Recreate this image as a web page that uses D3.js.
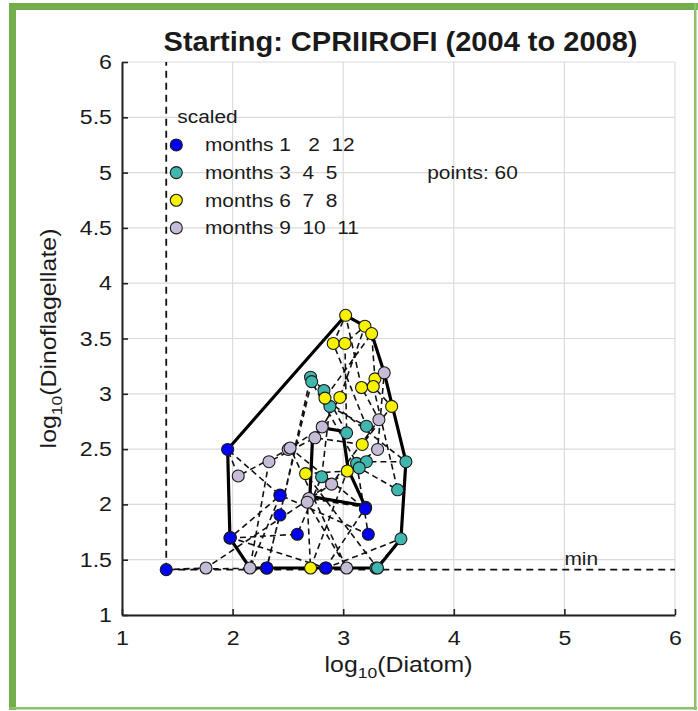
<!DOCTYPE html>
<html>
<head>
<meta charset="UTF-8">
<title>CPRIIROFI</title>
<script src="https://cdn.jsdelivr.net/npm/d3@7"></script>
<style>
body { margin: 0; background: #fff; }
text { font-family: "Liberation Sans", Arial, Helvetica, sans-serif; fill: #1a1a1a; }
</style>
</head>
<body>
<svg id="chart" width="698" height="711"></svg>
<script>
// monthly samples in time order, Jan 2004 .. Dec 2008
const years = [2004, 2005, 2006, 2007, 2008];
const diatom = [
  1.976, 2.585, 2.805, 2.880, 3.210, 2.910, 3.022, 3.166, 3.323, 2.895, 1.759, 1.400,
  2.307, 2.428, 2.705, 2.826, 3.031, 3.016, 3.196, 2.970, 2.810, 2.503, 2.051, 1.955,
  2.428, 3.227, 3.121, 3.210, 3.567, 2.835, 3.257, 3.287, 3.371, 3.311, 2.690, 3.203,
  2.840, 2.310, 2.715, 3.145, 3.492, 3.272, 3.438, 3.172, 2.744, 2.329, 2.157, 2.430,
  1.980, 2.845, 3.522, 3.296, 3.310, 2.660, 3.037, 2.705, 2.675, 3.031, 2.520, 3.200
];
const dino = [
  1.695, 1.730, 2.250, 2.886, 2.707, 3.455, 3.710, 3.057, 2.766, 2.183, 1.425, 1.410,
  1.425, 1.904, 3.150, 3.030, 2.647, 3.455, 3.611, 2.967, 2.700, 2.497, 2.257, 2.497,
  2.084, 1.730, 2.371, 2.386, 2.386, 2.961, 3.545, 3.135, 3.190, 2.497, 2.054, 1.973,
  1.425, 1.425, 3.110, 2.330, 2.132, 3.066, 2.886, 2.542, 2.602, 2.386, 1.425, 2.080,
  1.700, 1.425, 1.689, 1.425, 1.425, 2.278, 2.302, 1.425, 2.020, 1.425, 2.510, 1.960
];
const groupMonths = [[1, 2, 12], [3, 4, 5], [6, 7, 8], [9, 10, 11]];
const groupLabels = ["months 1   2  12", "months 3  4  5", "months 6  7  8", "months 9  10  11"];
const groupColors = ["#0000f5", "#3fb6ae", "#f7f200", "#c6bcd8"];
const xTicks = [1, 2, 3, 4, 5, 6];
const yTicks = [1, 1.5, 2, 2.5, 3, 3.5, 4, 4.5, 5, 5.5, 6];
const minDiatom = 1.4;
const minDino = 1.41;
// core polygon
const coreX = [2.819, 2.995, 3.045, 3.196, 2.699, 2.723];
const coreY = [2.692, 2.661, 2.317, 1.988, 2.072, 2.611];

const svg = d3.select("#chart");
const sx = 1.13; // the original text is a bit wider than Arial

const x = d3.scaleLinear().domain([1, 6]).range([122, 675]);
const y = d3.scaleLinear().domain([1, 6]).range([615, 62]);

const pts = diatom.map(function(d, i) {
  const m = (i % 12) + 1;
  const g = groupMonths.findIndex(function(a) { return a.indexOf(m) >= 0; });
  return { x: d, y: dino[i], month: m, year: years[Math.floor(i / 12)], group: g };
});

// green frame
const green = "#72ae4a";
svg.append("rect").attr("x", 9).attr("y", 3).attr("width", 7).attr("height", 707).attr("fill", green);
svg.append("rect").attr("x", 9).attr("y", 3).attr("width", 689).attr("height", 7).attr("fill", green);
svg.append("rect").attr("x", 694).attr("y", 3).attr("width", 2.5).attr("height", 707).attr("fill", "#8cc06a");
svg.append("rect").attr("x", 9).attr("y", 707).attr("width", 688).attr("height", 2.5).attr("fill", "#8cc06a");

// grid
svg.append("g").selectAll("line").data(xTicks).join("line")
  .attr("x1", d => x(d)).attr("x2", d => x(d))
  .attr("y1", y(1)).attr("y2", y(6))
  .attr("stroke", "#dcdcdc").attr("stroke-width", 1.2);
svg.append("g").selectAll("line").data(yTicks).join("line")
  .attr("x1", x(1)).attr("x2", x(6))
  .attr("y1", d => y(d)).attr("y2", d => y(d))
  .attr("stroke", "#dcdcdc").attr("stroke-width", 1.2);

// axes
const xAxis = svg.append("g").attr("transform", "translate(0," + y(1) + ")")
  .call(d3.axisBottom(x).tickValues(xTicks).tickFormat(d3.format("d"))
    .tickSizeInner(-6).tickSizeOuter(0).tickPadding(15));
const yAxis = svg.append("g").attr("transform", "translate(" + x(1) + ",0)")
  .call(d3.axisLeft(y).tickValues(yTicks).tickFormat(d => String(d))
    .tickSizeInner(-6).tickSizeOuter(0).tickPadding(10));
[xAxis, yAxis].forEach(function(a) {
  a.select(".domain").attr("stroke", "#222").attr("stroke-width", 2);
  a.selectAll(".tick line").attr("stroke", "#222").attr("stroke-width", 1.6);
  a.selectAll(".tick text").attr("font-size", 20.5)
    .attr("font-family", "Liberation Sans, Arial, sans-serif").attr("fill", "#1a1a1a");
});
xAxis.selectAll(".tick text").attr("transform", "scale(" + sx + ",1)");
yAxis.selectAll(".tick text").attr("x", 0).attr("transform", "translate(-10,0) scale(" + sx + ",1)");

// min lines
svg.append("line")
  .attr("x1", x(minDiatom)).attr("x2", x(minDiatom)).attr("y1", y(minDino)).attr("y2", y(6))
  .attr("stroke", "#111").attr("stroke-width", 1.8).attr("stroke-dasharray", "7,5");
svg.append("line")
  .attr("x1", x(minDiatom)).attr("x2", x(6)).attr("y1", y(minDino)).attr("y2", y(minDino))
  .attr("stroke", "#111").attr("stroke-width", 1.8).attr("stroke-dasharray", "7,5");

// month to month path
const line = d3.line().x(d => x(d.x)).y(d => y(d.y));
svg.append("path").datum(pts).attr("d", line)
  .attr("fill", "none").attr("stroke", "#111").attr("stroke-width", 1.6)
  .attr("stroke-dasharray", "6,4");

// outer hull
const hull = d3.polygonHull(pts.filter(d => d.x >= 1.9).map(d => [x(d.x), y(d.y)]));
svg.append("path").attr("d", "M" + hull.join("L") + "Z")
  .attr("fill", "none").attr("stroke", "#000").attr("stroke-width", 3.2)
  .attr("stroke-linejoin", "round");

// core polygon
const core = coreX.map((d, i) => [x(d), y(coreY[i])]);
svg.append("path").attr("d", "M" + core.join("L") + "Z")
  .attr("fill", "none").attr("stroke", "#000").attr("stroke-width", 3.2)
  .attr("stroke-linejoin", "round");

// points
svg.append("g").selectAll("circle").data(pts).join("circle")
  .attr("cx", d => x(d.x)).attr("cy", d => y(d.y)).attr("r", 6)
  .attr("fill", d => groupColors[d.group])
  .attr("stroke", "#1a1a1a").attr("stroke-width", 1.1);

function label(px, py, str, size, anchor, weight, stretch) {
  const g = svg.append("g").attr("transform", "translate(" + px + "," + py + ") scale(" + (stretch || sx) + ",1)");
  return g.append("text").attr("font-size", size).attr("text-anchor", anchor || "start")
    .attr("font-weight", weight || "normal").style("white-space", "pre").text(str);
}

// legend
label(x(1.5), y(5.45), "scaled", 18.5);
groupLabels.forEach(function(s, i) {
  const ly = y(5.25 - i * 0.25);
  svg.append("circle").attr("cx", x(1.5) - 1).attr("cy", ly).attr("r", 6)
    .attr("fill", groupColors[i]).attr("stroke", "#1a1a1a").attr("stroke-width", 1.1);
  label(x(1.75), ly + 6.5, s, 18.5);
});
label(x(3.76), y(5) + 6.5, "points: " + pts.length, 18.5);
label(x(5), y(minDino) - 5, "min", 18.5);

// title
label((x(1) + x(6)) / 2 + 2, 51, "Starting: CPRIIROFI (" + years[0] + " to " + years[years.length - 1] + ")", 27, "middle", "bold", 1.075);

// axis labels
const xl = label((x(1) + x(6)) / 2, 672, "", 22, "middle");
xl.append("tspan").text("log");
xl.append("tspan").attr("font-size", 15.5).attr("dy", 6).text("10");
xl.append("tspan").attr("dy", -6).text("(Diatom)");

const yg = svg.append("g").attr("transform", "translate(56," + ((y(1) + y(6)) / 2) + ") rotate(-90) scale(" + sx + ",1)");
const yl = yg.append("text").attr("font-size", 22).attr("text-anchor", "middle");
yl.append("tspan").text("log");
yl.append("tspan").attr("font-size", 15.5).attr("dy", 6).text("10");
yl.append("tspan").attr("dy", -6).text("(Dinoflagellate)");
</script>
</body>
</html>
